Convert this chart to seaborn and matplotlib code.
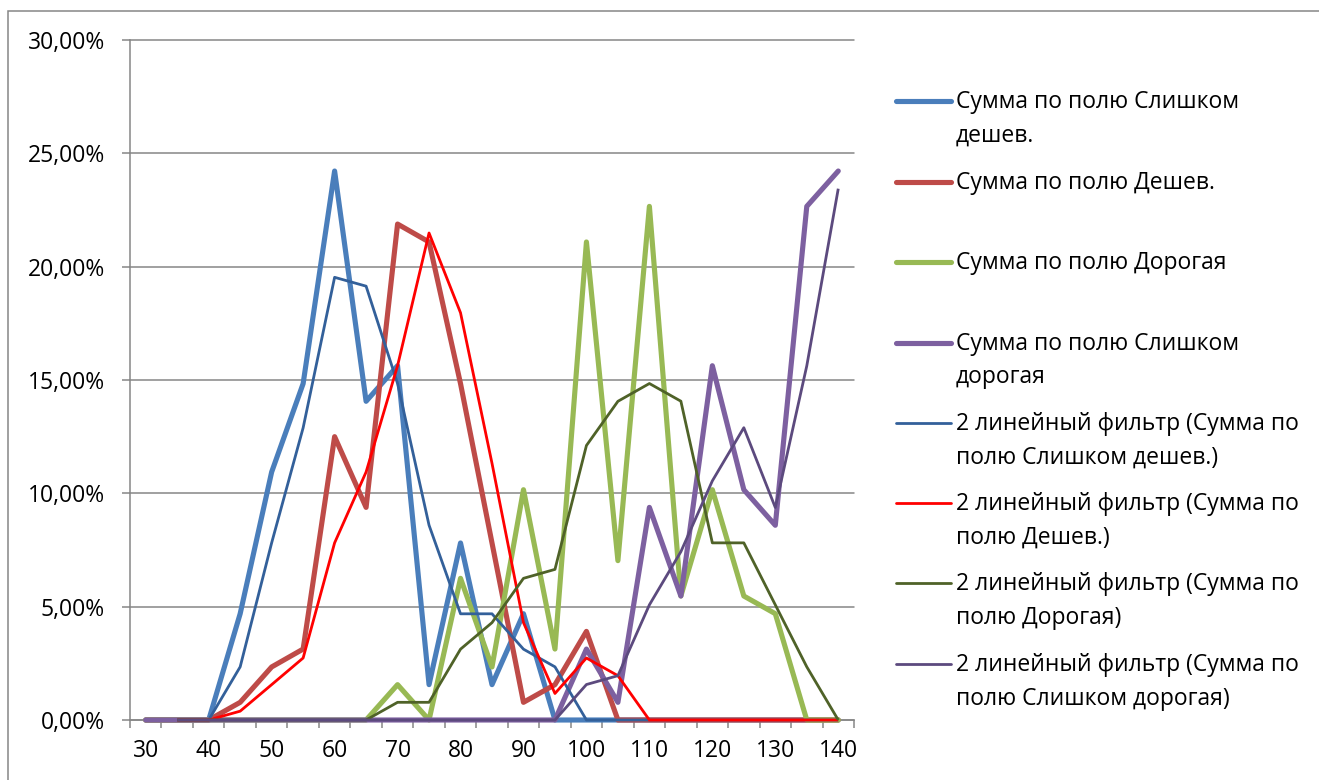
import matplotlib
matplotlib.use("Agg")
import matplotlib.pyplot as plt
from matplotlib.lines import Line2D
from matplotlib.patches import Rectangle
from matplotlib.ticker import FixedLocator, FuncFormatter
import numpy as np
import pandas as pd
import seaborn as sns

# Price points (categories) and shares of answers, in percent
prices = [30, 35, 40, 45, 50, 55, 60, 65, 70, 75, 80, 85, 90, 95, 100,
          105, 110, 115, 120, 125, 130, 135, 140]
too_cheap = [0, 0, 0, 4.69, 10.94, 14.84, 24.22, 14.06, 15.63, 1.56, 7.81, 1.56,
             4.69, 0, 0, 0, 0, 0, 0, 0, 0, 0, 0]
cheap = [0, 0, 0, 0.78, 2.34, 3.13, 12.50, 9.38, 21.88, 21.09, 14.84, 7.81,
         0.78, 1.56, 3.91, 0, 0, 0, 0, 0, 0, 0, 0]
expensive = [0, 0, 0, 0, 0, 0, 0, 0, 1.56, 0, 6.25, 2.34, 10.16, 3.13, 21.09,
             7.03, 22.66, 5.47, 10.16, 5.47, 4.69, 0, 0]
too_expensive = [0, 0, 0, 0, 0, 0, 0, 0, 0, 0, 0, 0, 0, 0, 3.13, 0.78, 9.38,
                 5.47, 15.63, 10.16, 8.59, 22.66, 24.22]

series_names = ["Сумма по полю Слишком дешев.", "Сумма по полю Дешев.",
                "Сумма по полю Дорогая", "Сумма по полю Слишком дорогая"]
series_values = [too_cheap, cheap, expensive, too_expensive]
main_colors = ["#4A7EBB", "#BE4B48", "#98B954", "#7D60A0"]
trend_colors = ["#33609A", "#FF0000", "#4F6228", "#5C4A7E"]

legend_lines = [
    ["Сумма по полю Слишком", "дешев."],
    ["Сумма по полю Дешев."],
    ["Сумма по полю Дорогая"],
    ["Сумма по полю Слишком", "дорогая"],
    ["2 линейный фильтр (Сумма по", "полю Слишком дешев.)"],
    ["2 линейный фильтр (Сумма по", "полю Дешев.)"],
    ["2 линейный фильтр (Сумма по", "полю Дорогая)"],
    ["2 линейный фильтр (Сумма по", "полю Слишком дорогая)"],
]

sns.set_theme(style="white")
plt.rcParams["font.family"] = ["Open Sans", "DejaVu Sans"]

W, H = 1319, 780
fig = plt.figure(figsize=(W / 100, H / 100), dpi=100)
fig.patch.set_facecolor("white")

# chart frame (runs off the right and bottom edges)
fig.add_artist(Rectangle((8 / W, -0.05), 1.1, 1 - 11 / H + 0.05,
                         transform=fig.transFigure, fill=False,
                         edgecolor="#868686", linewidth=1.1, zorder=0))

ax = fig.add_axes([130 / W, 60 / H, 724 / W, 680 / H])
ax.set_facecolor("white")

pos = np.arange(len(prices))
frames = []
for name, vals in zip(series_names, series_values):
    frames.append(pd.DataFrame({"pos": pos, "value": np.array(vals) / 100.0,
                                "series": name}))
data = pd.concat(frames, ignore_index=True)

GRID = "#868686"

# main series
for name, col in zip(series_names, main_colors):
    d = data[data["series"] == name]
    sns.lineplot(data=d, x="pos", y="value", ax=ax, color=col, linewidth=3.7,
                 solid_capstyle="round", solid_joinstyle="round",
                 clip_on=False, zorder=3, legend=False)

# 2-period moving average trend lines
for name, col in zip(series_names, trend_colors):
    d = data[data["series"] == name].copy()
    d["ma"] = d["value"].rolling(2).mean()
    d = d.dropna(subset=["ma"])
    sns.lineplot(data=d, x="pos", y="ma", ax=ax, color=col, linewidth=2.0,
                 solid_capstyle="butt", solid_joinstyle="round",
                 clip_on=False, zorder=4, legend=False)

ax.set_xlim(-0.5, len(prices) - 0.5)
ax.set_ylim(0, 0.30)
ax.set_xlabel("")
ax.set_ylabel("")

# y axis
ax.yaxis.set_major_locator(FixedLocator(np.arange(0, 0.301, 0.05)))
ax.yaxis.set_major_formatter(FuncFormatter(
    lambda v, p: f"{v * 100:.2f}%".replace(".", ",")))
ax.grid(axis="y", color=GRID, linewidth=1.1)
ax.grid(axis="x", visible=False)
for gl in ax.get_ygridlines():
    gl.set_clip_on(False)
ax.tick_params(axis="y", which="major", direction="out", length=6, width=1.1,
               color=GRID, pad=12, labelsize=16.5, labelcolor="black",
               left=True)

# x axis: labels at every other category, tick marks between categories
ax.set_xticks(pos[::2])
ax.set_xticklabels([str(p) for p in prices[::2]])
ax.set_xticks(np.arange(-0.5, len(prices), 1.0), minor=True)
ax.tick_params(axis="x", which="major", length=0, pad=14, labelsize=16.5,
               labelcolor="black")
ax.tick_params(axis="x", which="minor", direction="out", length=6, width=1.1,
               color=GRID, bottom=True)

for side in ["top", "right"]:
    ax.spines[side].set_visible(False)
for side in ["left", "bottom"]:
    ax.spines[side].set_color(GRID)
    ax.spines[side].set_linewidth(1.1)

# legend drawn in figure pixel coordinates
handle_y = [101, 181.7, 262.3, 342.7, 422.7, 503.3, 583.3, 664.3]
handle_colors = main_colors + trend_colors
handle_widths = [3.7] * 4 + [2.0] * 4
for yy, lines, col, lw in zip(handle_y, legend_lines, handle_colors,
                              handle_widths):
    fy = 1 - yy / H
    fig.add_artist(Line2D([896 / W, 951 / W], [fy, fy], color=col,
                          linewidth=lw, solid_capstyle="round",
                          transform=fig.transFigure))
    for k, txt in enumerate(lines):
        fig.text(956 / W, 1 - (yy + 1 + k * 33.5) / H, txt, ha="left",
                 va="center", fontsize=16.5, color="black")

fig.savefig("out.png", dpi=100, facecolor="white")
